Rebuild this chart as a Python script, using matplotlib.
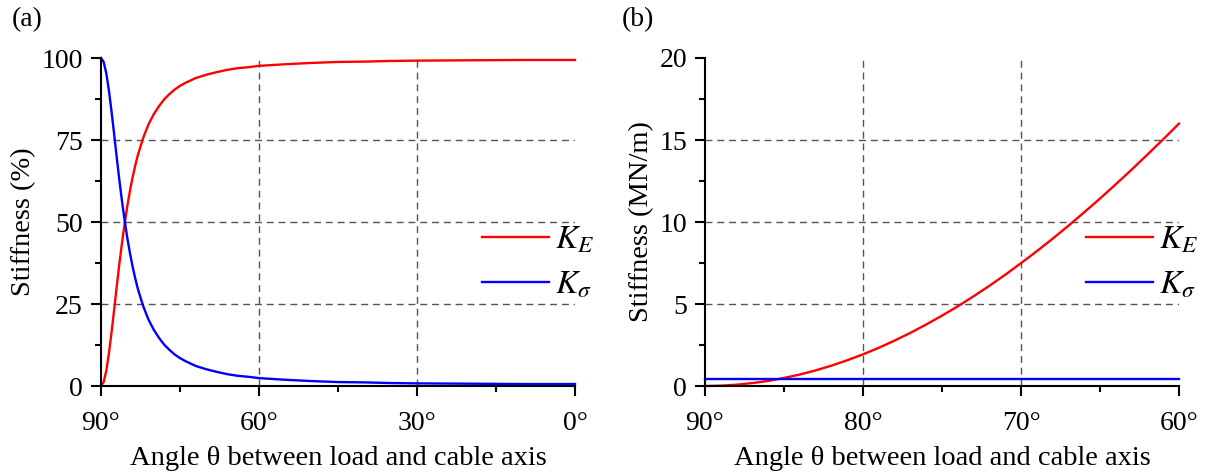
import matplotlib
matplotlib.use("Agg")
import matplotlib.pyplot as plt
from matplotlib.ticker import FixedLocator, FuncFormatter

plt.rcParams["font.family"] = ["Liberation Serif", "DejaVu Serif"]
plt.rcParams["mathtext.fontset"] = "stix"

# (a) share of stiffness (%) versus angle between load and cable axis
angle_a = [90, 89.5, 89, 88.5, 88, 87.5, 87, 86.5, 86, 85.5, 85, 84.5, 84,
           83.5, 83, 82, 81, 80, 79, 78, 77, 76, 75, 74, 72, 70, 68, 66, 64,
           62, 60, 55, 50, 45, 40, 35, 30, 20, 10, 0]
ke_pct = [0.0, 1.2, 4.6, 9.9, 16.3, 23.3, 30.5, 37.4, 43.8, 49.6, 54.9, 59.5,
          63.6, 67.2, 70.4, 75.6, 79.7, 82.8, 85.3, 87.4, 89.0, 90.4, 91.5,
          92.4, 93.9, 94.9, 95.7, 96.4, 96.9, 97.2, 97.6, 98.1, 98.5, 98.8,
          98.9, 99.1, 99.2, 99.3, 99.4, 99.4]
ks_pct = [100.0, 98.8, 95.4, 90.1, 83.7, 76.7, 69.5, 62.6, 56.2, 50.4, 45.1,
          40.5, 36.4, 32.8, 29.6, 24.4, 20.3, 17.2, 14.7, 12.6, 11.0, 9.6, 8.5,
          7.6, 6.1, 5.1, 4.3, 3.6, 3.1, 2.8, 2.4, 1.9, 1.5, 1.2, 1.1, 0.9, 0.8,
          0.7, 0.6, 0.6]

# (b) absolute stiffness (MN/m) for steep angles
angle_b = [90, 89, 88, 87, 86, 85, 84, 83, 82, 81, 80, 79, 78, 77, 76, 75, 74,
           73, 72, 71, 70, 69, 68, 67, 66, 65, 64, 63, 62, 61, 60]
ke_abs = [0.00, 0.02, 0.08, 0.18, 0.31, 0.49, 0.70, 0.95, 1.24, 1.57, 1.93,
          2.33, 2.77, 3.24, 3.75, 4.29, 4.86, 5.47, 6.11, 6.78, 7.49, 8.22,
          8.98, 9.77, 10.59, 11.43, 12.30, 13.19, 14.11, 15.04, 16.00]
angle_b_ks = [90, 60]
ks_abs = [0.4, 0.4]

xticks_a = [90, 60, 30, 0]
xminor_a = [75, 45, 15]
yticks_a = [0, 25, 50, 75, 100]
yminor_a = [12.5, 37.5, 62.5, 87.5]
xticks_b = [90, 80, 70, 60]
xminor_b = [85, 75, 65]
yticks_b = [0, 5, 10, 15, 20]
yminor_b = [2.5, 7.5, 12.5, 17.5]

W, H = 1205, 472
fig = plt.figure(figsize=(W / 100, H / 100), dpi=100)
ax_a = fig.add_axes([101 / W, 1 - 386 / H, 474 / W, 328 / H])
ax_b = fig.add_axes([705 / W, 1 - 386 / H, 474 / W, 328 / H])

deg_fmt = FuncFormatter(lambda v, p: f"{v:g}\u00b0")
grid_kw = dict(color="#555555", lw=1.0, dashes=(5, 3.5), zorder=0)


def style(ax, xt, xm, yt, ym, xlim, ylim, ylabel):
    ax.set_xlim(*xlim)
    ax.set_ylim(*ylim)
    ax.xaxis.set_major_locator(FixedLocator(xt))
    ax.xaxis.set_minor_locator(FixedLocator(xm))
    ax.yaxis.set_major_locator(FixedLocator(yt))
    ax.yaxis.set_minor_locator(FixedLocator(ym))
    ax.xaxis.set_major_formatter(deg_fmt)
    for s in ("top", "right"):
        ax.spines[s].set_visible(False)
    for s in ("left", "bottom"):
        ax.spines[s].set_linewidth(1.5)
    ax.tick_params(which="major", direction="out", length=7, width=1.5,
                   labelsize=20, pad=6)
    ax.tick_params(which="minor", direction="out", length=4, width=1.5)
    ax.tick_params(axis="x", which="major", pad=11)
    for v in xt[1:-1]:
        ax.axvline(v, **grid_kw)
    for v in yt[1:-1]:
        ax.axhline(v, **grid_kw)
    ax.set_xlabel("Angle \u03b8 between load and cable axis", fontsize=20.5,
                  labelpad=7)
    ax.set_ylabel(ylabel, fontsize=20.5, labelpad=4)


ax_a.plot(angle_a, ke_pct, color="#ff0000", lw=1.7, label="$K_E$",
          clip_on=False)
ax_a.plot(angle_a, ks_pct, color="#0000ff", lw=1.7, label=r"$K_\sigma$",
          clip_on=False)
style(ax_a, xticks_a, xminor_a, yticks_a, yminor_a, (90, 0), (0, 100),
      "Stiffness (%)")

ax_b.plot(angle_b, ke_abs, color="#ff0000", lw=1.7, label="$K_E$",
          clip_on=False)
ax_b.plot(angle_b_ks, ks_abs, color="#0000ff", lw=1.7, label=r"$K_\sigma$",
          clip_on=False)
style(ax_b, xticks_b, xminor_b, yticks_b, yminor_b, (90, 60), (0, 20),
      "Stiffness (MN/m)")

for ax, x0 in ((ax_a, 482), (ax_b, 1086)):
    left = (x0 - ax.get_position().x0 * W) / 474
    ax.legend(loc="center left", bbox_to_anchor=(left, (386 - 263) / 328),
              frameon=False, fontsize=24, handlelength=2.0,
              handletextpad=0.2, labelspacing=0.45, borderpad=0,
              borderaxespad=0)

fig.text(12 / W, 1 - 20 / H, "(a)", fontsize=20, va="center", ha="left")
fig.text(622 / W, 1 - 20 / H, "(b)", fontsize=20, va="center", ha="left")

fig.savefig("out.png", dpi=100)
